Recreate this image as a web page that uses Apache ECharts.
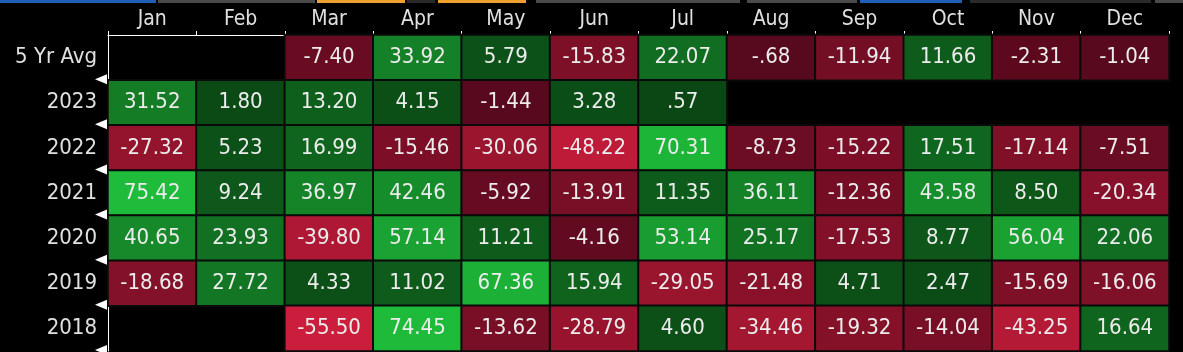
<!DOCTYPE html>
<html>
<head>
<meta charset="utf-8">
<script src="https://cdn.jsdelivr.net/npm/echarts@6/dist/echarts.min.js"></script>
<style>
  html, body { margin: 0; padding: 0; background: #000; }
  #main { width: 1183px; height: 352px; }
</style>
</head>
<body>
<div id="main"></div>
<script>
// 月份 / 行
var months = ['Jan', 'Feb', 'Mar', 'Apr', 'May', 'Jun', 'Jul', 'Aug', 'Sep', 'Oct', 'Nov', 'Dec'];
var rows = ['5 Yr Avg', '2023', '2022', '2021', '2020', '2019', '2018'];

// 每行数据 (null = 空格)
var avg5  = [null, null, -7.40, 33.92, 5.79, -15.83, 22.07, -0.68, -11.94, 11.66, -2.31, -1.04];
var y2023 = [31.52, 1.80, 13.20, 4.15, -1.44, 3.28, 0.57, null, null, null, null, null];
var y2022 = [-27.32, 5.23, 16.99, -15.46, -30.06, -48.22, 70.31, -8.73, -15.22, 17.51, -17.14, -7.51];
var y2021 = [75.42, 9.24, 36.97, 42.46, -5.92, -13.91, 11.35, 36.11, -12.36, 43.58, 8.50, -20.34];
var y2020 = [40.65, 23.93, -39.80, 57.14, 11.21, -4.16, 53.14, 25.17, -17.53, 8.77, 56.04, 22.06];
var y2019 = [-18.68, 27.72, 4.33, 11.02, 67.36, 15.94, -29.05, -21.48, 4.71, 2.47, -15.69, -16.06];
var y2018 = [null, null, -55.50, 74.45, -13.62, -28.79, 4.60, -34.46, -19.32, -14.04, -43.25, 16.64];

var table = [avg5, y2023, y2022, y2021, y2020, y2019, y2018];

var cells = [];
table.forEach(function (r, ri) {
    r.forEach(function (v, ci) {
        if (v !== null) cells.push([ci, ri, v]);
    });
});

var FONT = "'Liberation Sans Narrow', 'DejaVu Sans Condensed', sans-serif";

// 颜色插值
function mix(a, b, t) {
    var c = [];
    for (var i = 0; i < 3; i++) c.push(Math.round(a[i] + (b[i] - a[i]) * t));
    return 'rgb(' + c.join(',') + ')';
}
function cellColor(v) {
    if (v >= 0) {
        return mix([10, 70, 20], [30, 188, 58], Math.pow(Math.min(v / 75, 1), 0.9));
    }
    return mix([84, 8, 28], [204, 30, 60], Math.pow(Math.min(-v / 56, 1), 0.85));
}
function fmt(v) {
    return v.toFixed(2).replace(/^(-?)0\./, '$1.');
}

// 顶部标签条
var tabs = [
    [0, 156, '#1f5fb8'], [158, 157, '#4a4a4a'], [317, 88, '#f0a030'], [407, 28, '#2a2a2a'],
    [438, 88, '#f0a030'], [536, 204, '#4a4a4a'], [747, 110, '#4a4a4a'], [860, 102, '#1f5fb8'],
    [970, 181, '#2a2a2a'], [1155, 28, '#4a4a4a']
];

var myChart = echarts.init(document.getElementById('main'));
var option = {
    backgroundColor: '#000',
    animation: false,
    graphic: tabs.map(function (t) {
        return { type: 'rect', shape: { x: t[0], y: 0, width: t[1], height: 3 }, style: { fill: t[2] } };
    }),
    grid: { left: 108, right: 14, top: 35, bottom: 1 },
    xAxis: {
        type: 'category',
        position: 'top',
        data: months,
        axisLine: { lineStyle: { color: '#fff', width: 1 } },
        axisTick: { show: true, length: 4, lineStyle: { color: '#fff' } },
        axisLabel: { color: '#e0e0e0', fontSize: 21, fontFamily: FONT, margin: 5 },
        splitLine: { show: false }
    },
    yAxis: {
        type: 'category',
        inverse: true,
        data: rows,
        axisLine: { lineStyle: { color: '#fff', width: 1 } },
        axisTick: { show: false },
        axisLabel: { color: '#e0e0e0', fontSize: 22, fontFamily: FONT, margin: 11 },
        splitLine: { show: false }
    },
    series: [
        {
            type: 'heatmap',
            data: cells,
            itemStyle: {
                color: function (p) { return cellColor(p.value[2]); },
                borderColor: '#0a0a0a',
                borderWidth: 2
            },
            label: {
                show: true,
                color: '#ececec',
                fontSize: 22,
                fontFamily: FONT,
                formatter: function (p) { return fmt(p.value[2]); }
            },
            emphasis: { disabled: true }
        },
        {
            // 行分隔处的白色三角
            type: 'custom',
            silent: true,
            clip: false,
            data: rows.map(function (r, i) { return [0, i]; }),
            renderItem: function (params, api) {
                var pt = api.coord([api.value(0), api.value(1)]);
                var sz = api.size([1, 1]);
                var x = pt[0] - sz[0] / 2 - 1;
                var y = pt[1] + sz[1] / 2 - 1;
                return {
                    type: 'polygon',
                    shape: { points: [[x - 12, y], [x, y - 5], [x, y + 5]] },
                    style: { fill: '#fff' }
                };
            }
        }
    ]
};
myChart.setOption(option);
</script>
</body>
</html>
